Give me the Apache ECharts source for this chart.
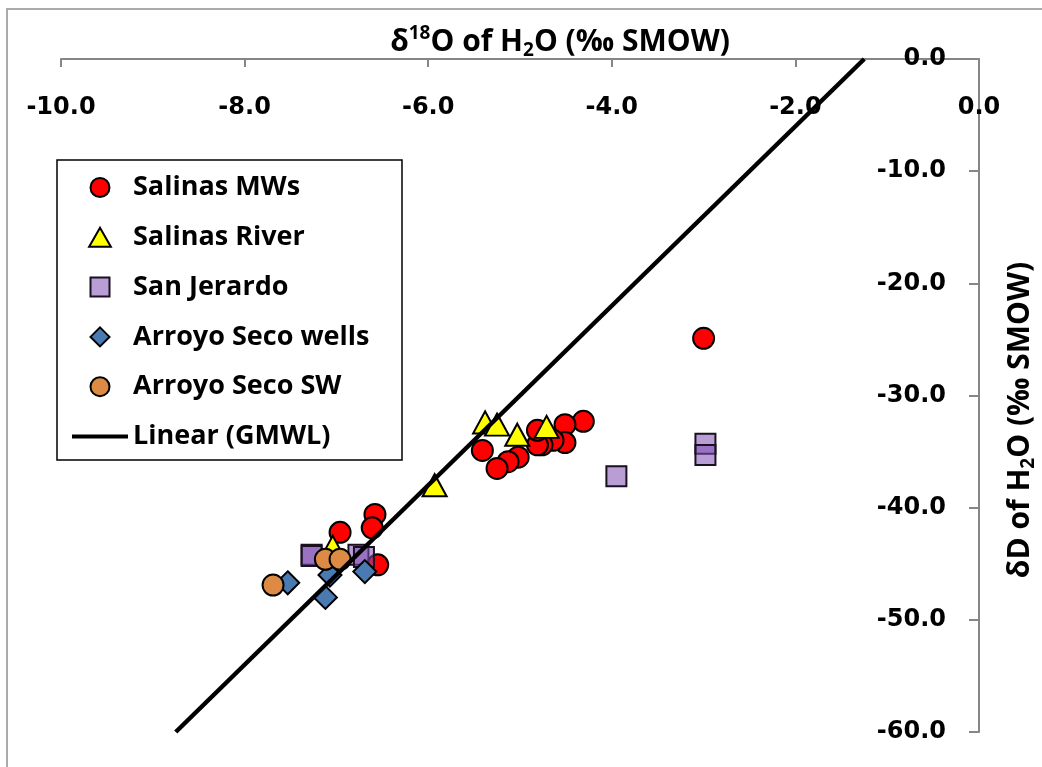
<!DOCTYPE html>
<html>
<head>
<meta charset="utf-8">
<script src="https://cdn.jsdelivr.net/npm/echarts@6/dist/echarts.min.js"></script>
<style>
html,body{margin:0;padding:0;background:#fff;}
#chart{width:1042px;height:767px;}
</style>
</head>
<body>
<div id="chart"></div>
<script>
// ---- data (δ18O, δD) ----
const salinasMWs = [
  [-3.00, -24.9], [-4.31, -32.3], [-4.51, -32.6], [-4.51, -34.2], [-4.64, -34.0],
  [-4.76, -34.4], [-4.81, -34.4], [-4.81, -33.1], [-5.02, -35.5], [-5.13, -35.9],
  [-5.25, -36.5], [-5.41, -34.9], [-6.58, -40.6], [-6.61, -41.8], [-6.96, -42.2],
  [-6.55, -45.1]
];
const salinasRiver = [
  [-5.38, -32.4], [-5.25, -32.6], [-5.03, -33.5], [-4.71, -32.8], [-5.93, -38.0],
  [-7.04, -43.5]
];
const sanJerardo = [
  [-3.95, -37.2], [-2.98, -34.3], [-2.98, -35.3], [-7.27, -44.2], [-7.27, -44.3],
  [-6.76, -44.2], [-6.70, -44.4]
];
const arroyoSecoWells = [
  [-7.53, -46.7], [-7.07, -46.0], [-6.69, -45.7], [-7.12, -48.0]
];
const arroyoSecoSW = [
  [-7.69, -46.9], [-7.12, -44.6], [-6.96, -44.6]
];
const gmwlX = [-8.75, -1.25];
const gmwlY = [-60, 0];
const xTicks = { min: -10, max: 0, interval: 2 };
const yTicks = { min: -60, max: 0, interval: 10 };
const seriesNames = ['Salinas MWs', 'Salinas River', 'San Jerardo', 'Arroyo Seco wells', 'Arroyo Seco SW', 'Linear (GMWL)'];

const chart = echarts.init(document.getElementById('chart'), null, { renderer: 'canvas' });
const tickFont = 'DejaVu Sans';
const textFont = 'Open Sans';
const axisGray = '#868686';

const sjColor = 'rgba(128,78,180,0.55)';

const option = {
  backgroundColor: '#fff',
  animation: false,
  grid: { left: 61, right: 63, top: 59, bottom: 35, containLabel: false },
  xAxis: {
    type: 'value', position: 'top', min: xTicks.min, max: xTicks.max, interval: xTicks.interval,
    axisLine: { show: true, onZero: false, lineStyle: { color: axisGray, width: 2 } },
    axisTick: { show: true, inside: true, length: 8, lineStyle: { color: axisGray, width: 2 } },
    axisLabel: { inside: true, margin: 37, color: '#000', fontFamily: tickFont, fontWeight: 'bold', fontSize: 24,
      formatter: v => v.toFixed(1) },
    splitLine: { show: false }
  },
  yAxis: {
    type: 'value', position: 'right', min: yTicks.min, max: yTicks.max, interval: yTicks.interval,
    axisLine: { show: true, onZero: false, lineStyle: { color: axisGray, width: 2 } },
    axisTick: { show: true, inside: true, length: 10, lineStyle: { color: axisGray, width: 2 } },
    axisLabel: { inside: true, margin: 33, color: '#000', fontFamily: tickFont, fontWeight: 'bold', fontSize: 24,
      formatter: v => v.toFixed(1) },
    splitLine: { show: false }
  },
  legend: {
    orient: 'vertical', left: 72, top: 174, padding: 0,
    itemWidth: 56, itemHeight: 19, itemGap: 22.8, symbolKeepAspect: true,
    textStyle: { fontFamily: textFont, fontWeight: 'bold', fontSize: 27, color: '#000', lineHeight: 26 },
    data: [
      { name: seriesNames[0], icon: 'circle' },
      { name: seriesNames[1], icon: 'path://M12,0 L24,21 L0,21 Z' },
      { name: seriesNames[2], icon: 'path://M0,0 L20,0 L20,20 L0,20 Z' },
      { name: seriesNames[3], icon: 'path://M10,0 L20,10 L10,20 L0,10 Z' },
      { name: seriesNames[4], icon: 'circle' },
      { name: seriesNames[5], icon: 'path://M0,0 L56,0 L56,4 L0,4 Z', itemStyle: { color: '#000', borderWidth: 0 } }
    ]
  },
  series: [
    { name: seriesNames[0], type: 'scatter', data: salinasMWs, symbol: 'circle', symbolSize: 21, z: 2,
      itemStyle: { color: '#FF0000', borderColor: '#000', borderWidth: 2, opacity: 1 } },
    { name: seriesNames[1], type: 'scatter', data: salinasRiver, symbol: 'triangle', symbolSize: [24, 22], z: 3,
      itemStyle: { color: '#FFFF00', borderColor: '#000', borderWidth: 2, opacity: 1 } },
    { name: seriesNames[2], type: 'scatter', data: sanJerardo, symbol: 'rect', symbolSize: 20, z: 4,
      itemStyle: { color: sjColor, borderColor: '#1a1020', borderWidth: 2, opacity: 1 } },
    { name: seriesNames[3], type: 'scatter', data: arroyoSecoWells, symbol: 'diamond', symbolSize: 23, z: 5,
      itemStyle: { color: '#4A7AB2', borderColor: '#000', borderWidth: 2, opacity: 1 } },
    { name: seriesNames[4], type: 'scatter', data: arroyoSecoSW, symbol: 'circle', symbolSize: 21, z: 6,
      itemStyle: { color: '#DD8A44', borderColor: '#000', borderWidth: 2, opacity: 1 } },
    { name: seriesNames[5], type: 'line', data: gmwlX.map((x, i) => [x, gmwlY[i]]), symbol: 'none', showSymbol: false, z: 10,
      lineStyle: { color: '#000', width: 4.5 }, itemStyle: { color: '#000' } }
  ],
  graphic: [
    { type: 'rect', z: -10, silent: true, shape: { x: 7, y: 9, width: 1060, height: 800 },
      style: { fill: 'none', stroke: '#ababab', lineWidth: 2 } },
    { type: 'rect', z: 0, silent: true, shape: { x: 57, y: 160, width: 345, height: 300 },
      style: { fill: 'none', stroke: '#000', lineWidth: 1.5 } },
    { type: 'text', z: 20, x: 560, y: 42, silent: true,
      style: {
        text: 'δ{sup|18}O of H{sub|2}O (‰ SMOW)', align: 'center', verticalAlign: 'middle',
        fontFamily: textFont, fontWeight: 'bold', fontSize: 30, fill: '#000', lineHeight: 36,
        rich: {
          sup: { fontFamily: textFont, fontWeight: 'bold', fontSize: 19, verticalAlign: 'top', lineHeight: 36, padding: [0, 0, 12, 0] },
          sub: { fontFamily: textFont, fontWeight: 'bold', fontSize: 19, verticalAlign: 'bottom', lineHeight: 36, padding: [12, 0, 0, 0] }
        }
      } },
    { type: 'text', z: 20, x: 1020, y: 420, rotation: Math.PI / 2, silent: true,
      style: {
        text: 'δD of H{sub|2}O (‰ SMOW)', align: 'center', verticalAlign: 'middle',
        fontFamily: textFont, fontWeight: 'bold', fontSize: 30, fill: '#000', lineHeight: 36,
        rich: {
          sub: { fontFamily: textFont, fontWeight: 'bold', fontSize: 19, verticalAlign: 'bottom', lineHeight: 36, padding: [12, 0, 0, 0] }
        }
      } }
  ]
};
chart.setOption(option);
</script>
</body>
</html>
